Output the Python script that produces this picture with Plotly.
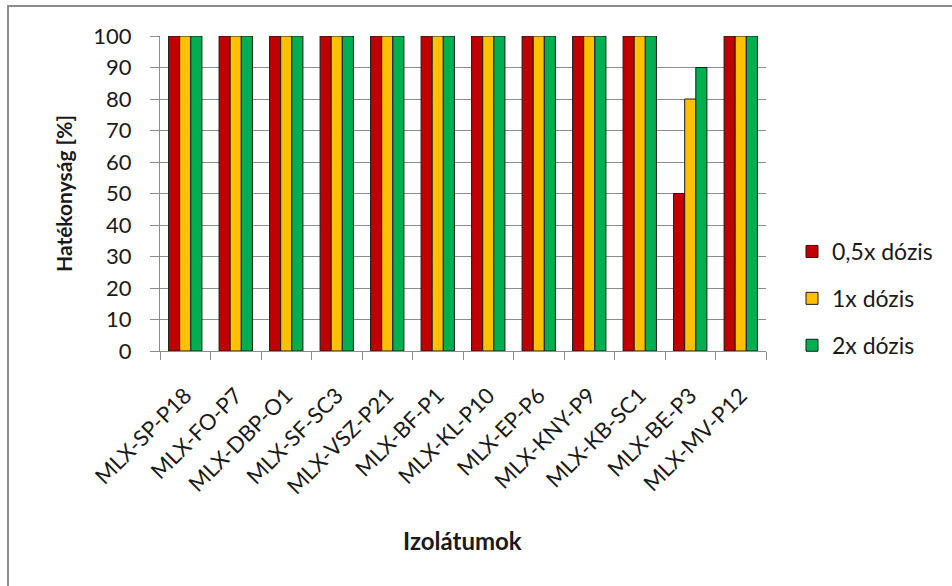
import plotly.graph_objects as go

categories = ["MLX-SP-P18", "MLX-FO-P7", "MLX-DBP-O1", "MLX-SF-SC3", "MLX-VSZ-P21",
              "MLX-BF-P1", "MLX-KL-P10", "MLX-EP-P6", "MLX-KNY-P9", "MLX-KB-SC1",
              "MLX-BE-P3", "MLX-MV-P12"]
dose_05 = [100, 100, 100, 100, 100, 100, 100, 100, 100, 100, 50, 100]
dose_1 = [100, 100, 100, 100, 100, 100, 100, 100, 100, 100, 80, 100]
dose_2 = [100, 100, 100, 100, 100, 100, 100, 100, 100, 100, 90, 100]
series_names = ["0,5x dózis", "1x dózis", "2x dózis"]
colors = ["#C00000", "#FFC000", "#00B050"]

FONT = "Lato, 'Open Sans', sans-serif"
TXT = "#1a1a1a"

fig = go.Figure()
for i, (name, vals, col) in enumerate(zip(series_names, [dose_05, dose_1, dose_2], colors)):
    fig.add_trace(go.Bar(x=categories, y=vals, name=name, legendgroup=f"g{i}",
                         marker=dict(color=col, line=dict(color="#1a1a1a", width=1))))

W, H = 952, 586
L, R, T, B = 160, 186, 36, 235
pw, ph = W - L - R, H - T - B

def px_x(x):
    return (x - L) / pw

def px_y(y):
    return (H - B - y) / ph

fig.add_shape(type="rect", xref="paper", yref="paper",
              x0=px_x(8), x1=px_x(W + 10), y0=px_y(W), y1=px_y(6),
              line=dict(color="#8c8c8c", width=2), fillcolor="rgba(0,0,0,0)", layer="below")

fig.add_annotation(text="<b>Izolátumok</b>", xref="paper", yref="paper",
                   x=px_x(462), y=px_y(540), showarrow=False,
                   xanchor="center", yanchor="middle",
                   font=dict(size=24, family=FONT, color=TXT))
fig.add_annotation(text="<b>Hatékonyság [%]</b>", xref="paper", yref="paper",
                   x=px_x(63), y=px_y(194), showarrow=False, textangle=-90,
                   xanchor="center", yanchor="middle",
                   font=dict(size=21, family=FONT, color=TXT))

fig.update_layout(
    width=W, height=H,
    margin=dict(l=L, r=R, t=T, b=B),
    paper_bgcolor="white", plot_bgcolor="white",
    barmode="group", bargap=0.34, bargroupgap=0,
    font=dict(family=FONT, size=22, color=TXT),
    showlegend=True,
    legend=dict(x=px_x(792), y=px_y(230), xanchor="left", yanchor="top",
                font=dict(size=23, family=FONT, color=TXT), itemwidth=30, tracegroupgap=14,
                bgcolor="rgba(0,0,0,0)"),
    xaxis=dict(tickangle=-45, tickfont=dict(size=22, family=FONT, color=TXT),
               showline=True, linecolor="#8c8c8c", linewidth=1,
               ticks="outside", ticklen=8, tickcolor="#8c8c8c", tickson="boundaries",
               ticklabelstandoff=22, showgrid=False),
    yaxis=dict(range=[0, 100], dtick=10, tickfont=dict(size=22, family=FONT, color=TXT),
               showline=True, linecolor="#8c8c8c", linewidth=1,
               ticks="outside", ticklen=9, tickcolor="#8c8c8c", ticklabelstandoff=14,
               showgrid=True, gridcolor="#8c8c8c", gridwidth=1, zeroline=False),
)

fig.write_html("out.html")
